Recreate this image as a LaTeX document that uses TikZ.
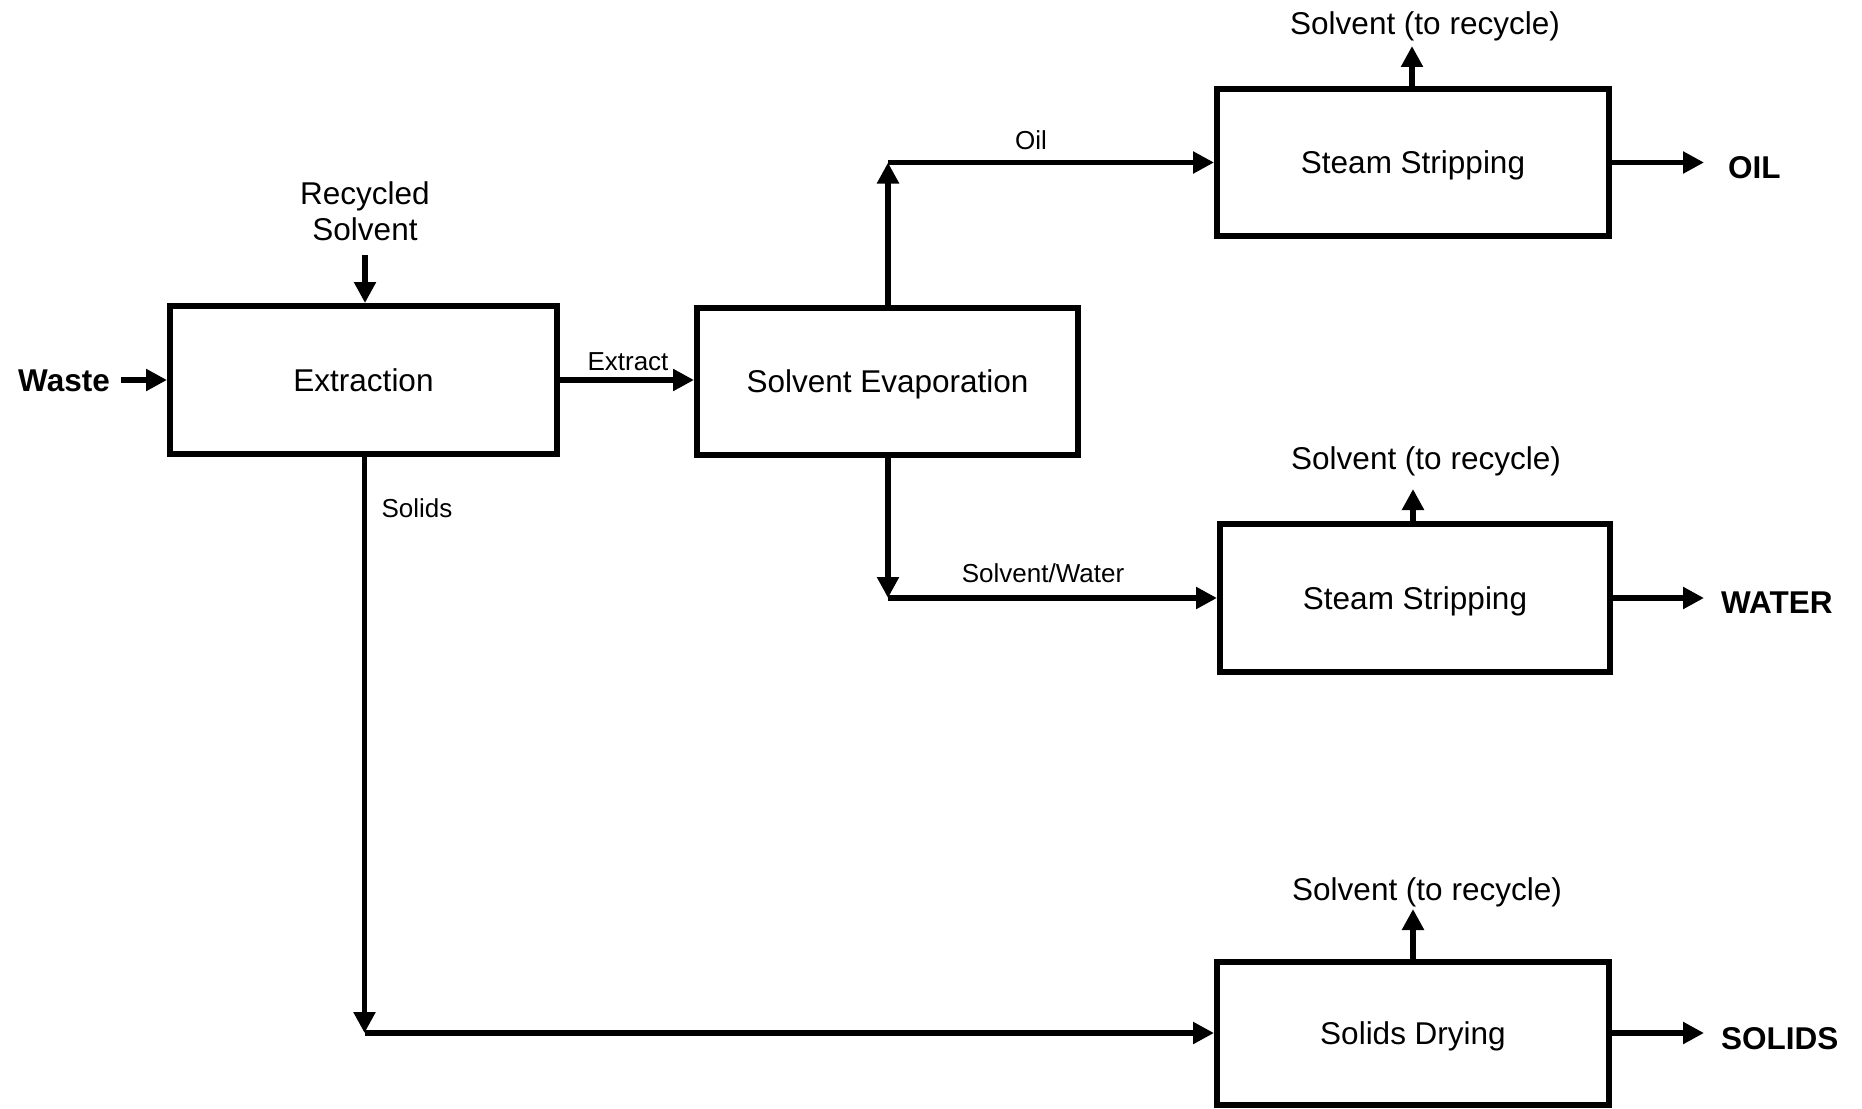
\documentclass[tikz,border=0pt]{standalone}
\usepackage{fontspec}
\setmainfont{Liberation Sans}
\usetikzlibrary{arrows.meta}
\begin{document}
\begin{tikzpicture}[x=1pt,y=-1pt,
  box/.style={draw,line width=6pt,inner sep=0pt,minimum width=#1,minimum height=147pt,text depth=0pt,font=\fontsize{31.5}{36}\selectfont},
  big/.style={inner sep=0pt,font=\fontsize{31.5}{36}\selectfont},
  bigb/.style={inner sep=0pt,font=\fontsize{31.5}{36}\selectfont\bfseries},
  small/.style={inner sep=0pt,font=\fontsize{26}{30}\selectfont},
  arr/.style={line width=5.5pt,-{Triangle[length=21pt,width=21pt]}}]
\useasboundingbox (0,0) rectangle (1862,1108);
\fill[white] (0,0) rectangle (1862,1108);
% boxes
\node[box=387pt,minimum height=148pt] (ext) at (363.5,380) {Extraction};
\node[box=381pt] (se) at (887.5,381.5) {Solvent Evaporation};
\node[box=392pt] (ss1) at (1413,162.5) {Steam Stripping};
\node[box=390pt,minimum height=148pt] (ss2) at (1415,598) {Steam Stripping};
\node[box=392pt,minimum height=143pt] (sd) at (1413,1033) {Solids Drying};
% labels
\node[bigb,anchor=east] (waste) at (110,381) {Waste};
\node[big,align=center] (rs) at (365,211) {Recycled\\Solvent};
\node[small] (lext) at (628,362) {Extract};
\node[small] (loil) at (1031,140) {Oil};
\node[small] (lsw) at (1043,573) {Solvent/Water};
\node[small] (lsol) at (417,508) {Solids};
\node[big] (r1) at (1425,26) {Solvent (to recycle)};
\node[big] (r2) at (1426,461) {Solvent (to recycle)};
\node[big] (r3) at (1427,892) {Solvent (to recycle)};
\node[bigb,anchor=west] (oil) at (1728,168) {OIL};
\node[bigb,anchor=west] (water) at (1721,603) {WATER};
\node[bigb,anchor=west] (solids) at (1721,1039) {SOLIDS};
% coordinates
\coordinate (wst) at (121,380);
\coordinate (rsa) at (365,255);
\coordinate (coil) at (888,162.5);
\coordinate (csw) at (888,598);
\coordinate (csol) at (364.5,1033);
\coordinate (e1) at (1704,162.5);
\coordinate (e2) at (1704,598);
\coordinate (e3) at (1704,1033);
\coordinate (u1) at (1412,46);
\coordinate (u2) at (1413,489);
\coordinate (u3) at (1413,909);
% connectors
\draw[arr] (wst) -- (ext.west);
\draw[arr] (rsa) -- (ext.north -| rsa);
\draw[arr] (ext.east) -- (se.west |- ext.east);
\draw[arr] (se.north -| coil) -- (coil);
\draw[arr] (coil) -- (ss1.west);
\draw[arr] (se.south -| csw) -- (csw);
\draw[arr] (csw) -- (ss2.west);
\draw[arr] (ext.south -| csol) -- (csol);
\draw[arr] (csol) -- (sd.west);
\draw[arr] (ss1.north -| u1) -- (u1);
\draw[arr] (ss2.north -| u2) -- (u2);
\draw[arr] (sd.north -| u3) -- (u3);
\draw[arr] (ss1.east) -- (e1);
\draw[arr] (ss2.east) -- (e2);
\draw[arr] (sd.east) -- (e3);
\end{tikzpicture}
\end{document}
